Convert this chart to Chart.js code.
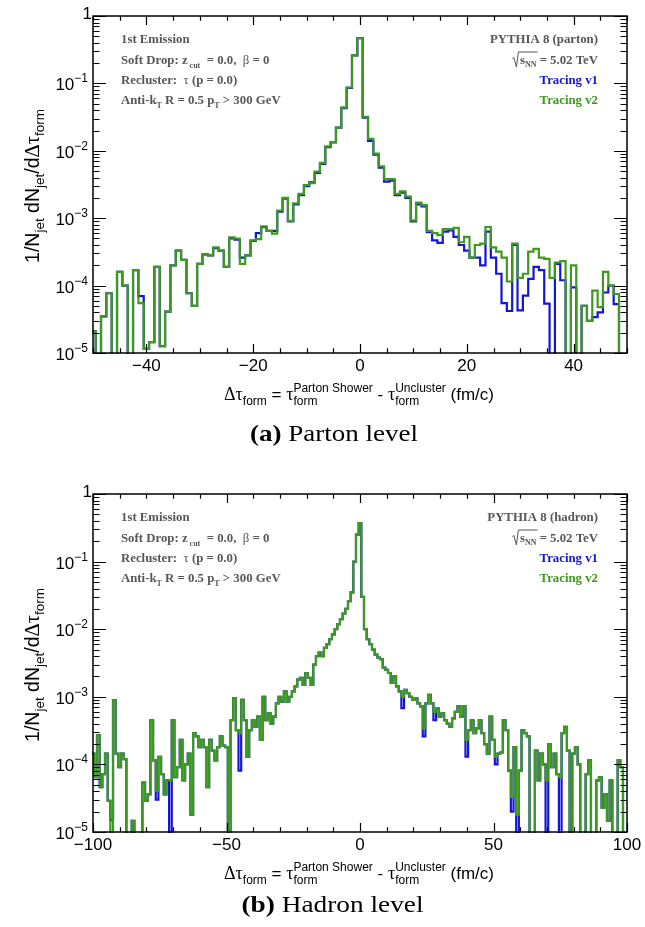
<!DOCTYPE html>
<html><head><meta charset="utf-8">
<script src="https://cdn.jsdelivr.net/npm/chart.js@4.4.1/dist/chart.umd.min.js"></script>
<style>
html,body{margin:0;padding:0;background:#fff}
#wrap{position:relative;width:645px;height:927px;overflow:hidden;background:#fff}
#wrap canvas{position:absolute;left:0;top:0}
</style></head><body>
<div id="wrap"><canvas id="cA" width="645" height="927"></canvas><canvas id="cB" width="645" height="927"></canvas></div>
<script>
// ---------------- DATA ----------------
// Panel (a) parton level: bins of width 1 fm/c centred on -50 ... 50
const partonFirstCenter = -50;
const partonV2 = [
 2.1e-5, 0, 3.5e-5, 7.7e-5, 0, 1.6e-4, 1.0e-4, 0, 1.7e-4, 5.5e-5,
 1.15e-5, 1.45e-5, 1.9e-4, 1.26e-5, 4.1e-5, 2.0e-4, 3.3e-4, 2.4e-4, 7.7e-5, 5.0e-5,
 2.1e-4, 2.9e-4, 2.8e-4, 3.7e-4, 3.3e-4, 1.9e-4, 5.2e-4, 5.0e-4, 2.1e-4, 2.8e-4,
 4.7e-4, 4.9e-4, 7.6e-4, 6.5e-4, 5.9e-4, 1.3e-3, 2.0e-3, 9.1e-4, 1.66e-3, 2.3e-3,
 3.1e-3, 3.3e-3, 4.9e-3, 6.6e-3, 1.16e-2, 1.35e-2, 2.2e-2, 4.4e-2, 8.7e-2, 0.26,
 0.47,
 0.032, 0.015, 0.0091, 0.0059, 0.0038, 0.0038, 0.0023, 0.0025, 0.0021, 9.3e-4,
 1.7e-3, 1.56e-3, 6.5e-4, 6.0e-4, 5.6e-4, 6.9e-4, 6.9e-4, 7.2e-4, 4.4e-4, 5.3e-4,
 2.6e-4, 4.0e-4, 4.2e-4, 7.4e-4, 3.7e-4, 3.2e-4, 2.6e-4, 1.15e-4, 4.2e-4, 1.3e-4,
 1.5e-4, 3.2e-4, 3.5e-4, 2.6e-4, 2.5e-4, 1.3e-4, 2.2e-4, 2.3e-4, 0, 2.0e-4,
 0, 5.0e-5, 3.0e-5, 8.4e-5, 4.8e-5, 1.6e-4, 1.0e-4, 7.5e-5, 0, 0
];
const partonV1 = [
 2.1e-5, 0, 3.5e-5, 7.7e-5, 0, 1.6e-4, 1.0e-4, 0, 1.7e-4, 7.0e-5,
 1.15e-5, 1.45e-5, 1.9e-4, 1.26e-5, 4.1e-5, 2.0e-4, 3.3e-4, 2.4e-4, 7.7e-5, 5.0e-5,
 2.1e-4, 2.9e-4, 2.8e-4, 3.6e-4, 3.3e-4, 1.9e-4, 5.0e-4, 4.8e-4, 2.6e-4, 2.8e-4,
 4.6e-4, 6.0e-4, 7.4e-4, 6.5e-4, 6.5e-4, 1.25e-3, 1.95e-3, 9.0e-4, 1.6e-3, 2.2e-3,
 3.0e-3, 3.4e-3, 4.7e-3, 6.4e-3, 1.13e-2, 1.33e-2, 2.2e-2, 4.3e-2, 8.6e-2, 0.26,
 0.47,
 0.031, 0.014, 0.0088, 0.0056, 0.0035, 0.0036, 0.0022, 0.0024, 0.0020, 9.0e-4,
 1.6e-3, 1.5e-3, 6.2e-4, 4.7e-4, 4.3e-4, 6.3e-4, 6.6e-4, 5.3e-4, 4.0e-4, 3.3e-4,
 2.6e-4, 2.6e-4, 2.0e-4, 6.3e-4, 2.6e-4, 1.5e-4, 5.5e-5, 4.2e-5, 4.0e-4, 4.3e-5,
 7.1e-5, 1.26e-4, 1.9e-4, 1.7e-4, 5.4e-5, 0, 2.1e-4, 1.2e-4, 0, 9.4e-5,
 0, 5.0e-5, 3.0e-5, 3.4e-5, 4.0e-5, 7.9e-5, 1.0e-4, 5.3e-5, 0, 0
];
// Panel (b) hadron level: bins of width 1 fm/c centred on -100 ... 100
const hadronFirstCenter = -100;
const hadronV2 = [
 1.44e-4, 6.5e-5, 2.7e-4, 4.6e-5, 7.2e-5, 1.44e-4, 2.9e-5, 0, 8.9e-4, 1.44e-4,
 9.1e-5, 1.44e-4, 1.2e-4, 0, 0, 1.46e-5, 0, 0, 0, 5.4e-5,
 2.9e-5, 3.6e-5, 4.5e-4, 1.15e-4, 4.1e-5, 1.29e-4, 7.2e-5, 3.6e-5, 5.8e-5, 5.8e-5,
 4.5e-4, 6.5e-5, 9.1e-5, 2.3e-4, 5.8e-5, 1.0e-4, 1.44e-4, 1.8e-5, 2.9e-4, 2.6e-4,
 1.8e-4, 2.3e-4, 1.8e-4, 4.6e-5, 2.3e-4, 1.6e-4, 1.15e-4, 1.8e-4, 2.6e-4, 1.9e-4,
 1.8e-4, 0, 4.5e-4, 9.5e-4, 3.2e-4, 2.9e-4, 9.0e-4, 4.5e-4, 1.29e-4, 3.2e-4,
 4.5e-4, 3.6e-4, 5.1e-4, 2.3e-4, 1.0e-3, 4.5e-4, 5.7e-4, 4.0e-4, 5.1e-4, 8.0e-4,
 1.0e-3, 8.5e-4, 1.2e-3, 8.5e-4, 1.0e-3, 1.2e-3, 1.43e-3, 1.8e-3, 1.9e-3, 1.5e-3,
 2.25e-3, 1.9e-3, 1.5e-3, 3.0e-3, 4.0e-3, 4.5e-3, 4.0e-3, 5.3e-3, 6.0e-3, 7.1e-3,
 8.4e-3, 1.0e-2, 1.19e-2, 1.41e-2, 1.7e-2, 2.0e-2, 2.6e-2, 3.5e-2, 0.1, 0.25,
 0.37,
 0.03, 1.0e-2, 7.1e-3, 6.0e-3, 5.0e-3, 4.2e-3, 3.8e-3, 3.6e-3, 2.7e-3, 2.5e-3,
 2.25e-3, 1.6e-3, 2.0e-3, 1.43e-3, 1.2e-3, 1.0e-3, 1.27e-3, 1.13e-3, 1.0e-3, 9.0e-4,
 9.5e-4, 8.0e-4, 7.2e-4, 3.4e-4, 8.0e-4, 1.07e-3, 8.0e-4, 6.0e-4, 6.8e-4, 5.1e-4,
 5.7e-4, 4.5e-4, 4.0e-4, 3.6e-4, 4.8e-4, 6.0e-4, 7.2e-4, 5.1e-4, 7.2e-4, 2.3e-4,
 3.2e-4, 4.5e-4, 2.9e-4, 3.4e-4, 4.5e-4, 2.9e-4, 2.0e-4, 1.44e-4, 5.1e-4, 2.3e-4,
 1.29e-4, 1.44e-4, 1.5e-4, 4.5e-4, 3.2e-4, 8.1e-5, 3.3e-5, 1.8e-4, 1.8e-5, 8.1e-5,
 3.2e-4, 2.9e-4, 2.6e-4, 0, 0, 1.6e-4, 5.8e-5, 1.44e-4, 1.0e-4, 5.8e-5,
 2.0e-4, 9.1e-5, 1.44e-4, 7.2e-5, 6.5e-5, 2.9e-4, 3.6e-4, 1.6e-4, 0, 1.44e-4,
 1.8e-4, 1.0e-4, 0, 0, 7.2e-5, 1.15e-4, 0, 0, 5.8e-5, 6.5e-5,
 2.3e-5, 3.6e-5, 1.46e-5, 5.8e-5, 0, 0, 1.15e-4, 9.1e-5, 0, 0
];
const hadronV1 = [
 1.44e-4, 6.5e-5, 2.7e-4, 4.6e-5, 7.2e-5, 1.44e-4, 2.9e-5, 1.5e-5, 8.9e-4, 1.44e-4,
 9.1e-5, 1.44e-4, 1.2e-4, 0, 0, 1.46e-5, 0, 0, 0, 5.4e-5,
 2.9e-5, 3.6e-5, 4.5e-4, 1.15e-4, 3.0e-5, 1.29e-4, 7.2e-5, 3.6e-5, 5.8e-5, 0,
 4.5e-4, 6.5e-5, 9.1e-5, 2.3e-4, 5.8e-5, 1.0e-4, 1.44e-4, 1.8e-5, 2.9e-4, 2.6e-4,
 1.8e-4, 2.3e-4, 1.8e-4, 4.6e-5, 2.3e-4, 1.6e-4, 1.15e-4, 1.8e-4, 2.6e-4, 1.9e-4,
 1.8e-4, 0, 4.5e-4, 9.5e-4, 3.2e-4, 8.1e-5, 9.0e-4, 4.5e-4, 1.29e-4, 3.2e-4,
 4.5e-4, 3.6e-4, 5.1e-4, 2.3e-4, 1.0e-3, 4.5e-4, 5.7e-4, 4.0e-4, 5.1e-4, 8.0e-4,
 1.0e-3, 8.5e-4, 1.2e-3, 8.5e-4, 1.0e-3, 1.2e-3, 1.43e-3, 1.8e-3, 1.9e-3, 1.5e-3,
 2.25e-3, 1.9e-3, 1.5e-3, 3.0e-3, 4.0e-3, 4.5e-3, 4.0e-3, 5.3e-3, 6.0e-3, 7.1e-3,
 8.4e-3, 1.0e-2, 1.19e-2, 1.41e-2, 1.7e-2, 2.0e-2, 2.6e-2, 3.5e-2, 0.1, 0.25,
 0.37,
 0.03, 1.0e-2, 7.1e-3, 6.0e-3, 5.0e-3, 4.2e-3, 3.8e-3, 3.6e-3, 2.7e-3, 2.5e-3,
 2.25e-3, 1.6e-3, 2.0e-3, 1.43e-3, 1.2e-3, 6.8e-4, 1.27e-3, 1.13e-3, 1.0e-3, 9.0e-4,
 9.5e-4, 8.0e-4, 7.2e-4, 2.6e-4, 8.0e-4, 1.07e-3, 8.0e-4, 4.5e-4, 6.8e-4, 5.1e-4,
 5.7e-4, 4.5e-4, 4.0e-4, 3.6e-4, 4.8e-4, 6.0e-4, 7.2e-4, 5.1e-4, 7.2e-4, 1.3e-4,
 3.2e-4, 4.5e-4, 2.9e-4, 3.4e-4, 4.5e-4, 2.9e-4, 2.0e-4, 1.44e-4, 5.1e-4, 2.3e-4,
 1.0e-4, 1.44e-4, 1.5e-4, 4.5e-4, 3.2e-4, 8.1e-5, 2.0e-5, 1.8e-4, 0, 8.1e-5,
 3.2e-4, 2.9e-4, 2.6e-4, 0, 0, 1.6e-4, 5.8e-5, 1.44e-4, 1.0e-4, 0,
 2.0e-4, 9.1e-5, 1.44e-4, 7.2e-5, 0, 2.9e-4, 3.6e-4, 1.6e-4, 0, 1.44e-4,
 1.8e-4, 1.0e-4, 0, 0, 7.2e-5, 1.15e-4, 0, 0, 5.8e-5, 6.5e-5,
 2.3e-5, 3.6e-5, 1.46e-5, 5.8e-5, 0, 0, 1.15e-4, 9.1e-5, 0, 0
];
const partonXTicks = [-40, -20, 0, 20, 40];
const hadronXTicks = [-100, -50, 0, 50, 100];
const yTickExps = [0, -1, -2, -3, -4, -5];
const seriesNames = ['Tracing v1', 'Tracing v2'];

// ---------------- STYLE ----------------
const SANS = '"Liberation Sans", Arial, Helvetica, sans-serif';
const SERIF = '"Liberation Serif", "Times New Roman", Times, serif';
const GREY = '#575757';
const BLUE = '#1515d8';
const GREEN = '#3c9a1c';

function stepData(firstCenter, values) {
  const floor = 1e-9; // empty bins fall below the axis minimum
  const pts = values.map((v, i) => ({ x: firstCenter + i - 0.5, y: v > 0 ? v : floor }));
  const last = values[values.length - 1];
  pts.push({ x: firstCenter + values.length - 0.5, y: last > 0 ? last : floor });
  return pts;
}

function rich(ctx, segs, x, y, align) {
  const widths = segs.map(s => {
    if (s.w !== undefined) return s.w;
    ctx.font = s.f;
    if (s.sup !== undefined) return Math.max(ctx.measureText(s.sup).width, ctx.measureText(s.sub).width);
    return ctx.measureText(s.t).width;
  });
  const W = widths.reduce((a, b) => a + b, 0);
  let cx = align === 'right' ? x - W : align === 'center' ? x - W / 2 : x;
  const x0 = cx;
  const pos = [];
  segs.forEach((s, i) => {
    pos.push(cx);
    if (s.w === undefined) {
      ctx.font = s.f; ctx.fillStyle = s.c || '#000';
      if (s.sup !== undefined) {
        ctx.fillText(s.sup, cx, y + s.supDy);
        ctx.fillText(s.sub, cx, y + s.subDy);
      } else ctx.fillText(s.t, cx, y + (s.dy || 0));
    }
    cx += widths[i];
  });
  return { x0, W, pos, widths };
}

function fmtTick(v) { return v < 0 ? '\u2212' + Math.abs(v) : String(v); }

function makeDecor(cfg) {
  return {
    id: 'decor' + cfg.tag,
    afterDraw(chart) {
      const ctx = chart.ctx, a = chart.chartArea, xs = chart.scales.x, ys = chart.scales.y;
      ctx.save();
      ctx.textBaseline = 'alphabetic'; ctx.textAlign = 'left';
      // ticks
      ctx.strokeStyle = '#000'; ctx.lineWidth = 1.2;
      ctx.beginPath();
      for (let v = cfg.xMin; v <= cfg.xMax; v += cfg.xMinorStep) {
        const px = Math.round(xs.getPixelForValue(v)) + 0.5;
        const L = (v % cfg.xMajorStep === 0) ? 9 : 4.7;
        ctx.moveTo(px, a.bottom); ctx.lineTo(px, a.bottom - L);
        ctx.moveTo(px, a.top); ctx.lineTo(px, a.top + L);
      }
      for (let e = -5; e <= 0; e++) {
        for (let m = 1; m <= 9; m++) {
          if (e === 0 && m > 1) break;
          const v = m * Math.pow(10, e);
          const py = Math.round(ys.getPixelForValue(v)) + 0.5;
          const L = m === 1 ? 13 : 6.5;
          ctx.moveTo(a.left, py); ctx.lineTo(a.left + L, py);
          ctx.moveTo(a.right, py); ctx.lineTo(a.right - L, py);
        }
      }
      ctx.stroke();
      ctx.lineWidth = 1.5;
      ctx.strokeRect(a.left, a.top, a.right - a.left, a.bottom - a.top);

      // x tick labels
      ctx.fillStyle = '#000';
      cfg.xTicks.forEach(v => {
        rich(ctx, [{ t: fmtTick(v), f: '17px ' + SANS }], xs.getPixelForValue(v), a.bottom + 18, 'center');
      });
      // y tick labels
      yTickExps.forEach(e => {
        const py = ys.getPixelForValue(Math.pow(10, e));
        if (e === 0) rich(ctx, [{ t: '1', f: '17px ' + SANS }], 92, py + 3, 'right');
        else rich(ctx, [{ t: '10', f: '17px ' + SANS, dy: 7 }, { t: '\u2212' + Math.abs(e), f: '12px ' + SANS, dy: -1 }], 88, py, 'right');
      });

      // y title (rotated)
      ctx.save();
      ctx.translate(39, cfg.yTitleY);
      ctx.rotate(-Math.PI / 2);
      const sub = { f: '13.5px ' + SANS, dy: 5 };
      rich(ctx, [
        { t: '1/N', f: '19.5px ' + SANS }, { t: 'jet', ...sub }, { t: ' dN', f: '19.5px ' + SANS }, { t: 'jet', ...sub },
        { t: '/d', f: '19.5px ' + SANS }, { t: '\u0394\u03c4', f: '20.5px ' + SERIF }, { t: 'form', ...sub }
      ], 0, 0, 'center');
      ctx.restore();

      // x title
      const big = '17px ' + SANS, small = '12px ' + SANS, gk = '18px ' + SERIF;
      rich(ctx, [
        { t: '\u0394\u03c4', f: gk }, { t: 'form', f: small, dy: 5 }, { t: ' = ', f: big },
        { t: '\u03c4', f: gk }, { sup: 'Parton Shower', sub: 'form', f: small, supDy: -8, subDy: 5 },
        { t: ' - ', f: big }, { t: '\u03c4', f: gk }, { sup: 'Uncluster', sub: 'form', f: small, supDy: -8, subDy: 5 },
        { t: ' (fm/c)', f: big }
      ], 359, a.bottom + 47, 'center');

      // annotations (left block)
      const B = 'bold 12.8px ' + SERIF, BS = 'bold 8px ' + SERIF, SY = '12.8px ' + SERIF;
      const L0 = a.top + 27, lx = 121;
      rich(ctx, [{ t: '1st Emission', f: B, c: GREY }], lx, L0, 'left');
      rich(ctx, [{ t: 'Soft Drop: z', f: B, c: GREY }, { t: ' cut', f: BS, c: GREY, dy: 4 }, { t: '  = 0.0,  ', f: B, c: GREY },
                 { t: '\u03b2', f: SY, c: GREY }, { t: ' = 0', f: B, c: GREY }], lx, L0 + 20.5, 'left');
      rich(ctx, [{ t: 'Recluster:  ', f: B, c: GREY }, { t: '\u03c4', f: SY, c: GREY }, { t: ' (p = 0.0)', f: B, c: GREY }], lx, L0 + 41, 'left');
      rich(ctx, [{ t: 'Anti-k', f: B, c: GREY }, { t: 'T', f: BS, c: GREY, dy: 4 }, { t: ' R = 0.5 p', f: B, c: GREY },
                 { t: 'T', f: BS, c: GREY, dy: 4 }, { t: ' > 300 GeV', f: B, c: GREY }], lx, L0 + 60.5, 'left');

      // annotations (right block)
      const rx = 598;
      rich(ctx, [{ t: cfg.gen, f: B, c: GREY }], rx, L0, 'right');
      const r = rich(ctx, [{ w: 8 }, { t: 's', f: B, c: GREY }, { t: 'NN', f: 'bold 8px ' + SERIF, c: GREY, dy: 3 },
                           { t: ' = 5.02 TeV', f: B, c: GREY }], rx, L0 + 20.5, 'right');
      const by = L0 + 20.5;
      ctx.strokeStyle = GREY; ctx.lineWidth = 1;
      ctx.beginPath();
      ctx.moveTo(r.x0 + 0.5, by - 5); ctx.lineTo(r.x0 + 2, by - 6); ctx.lineTo(r.x0 + 4.5, by + 3.5);
      ctx.lineTo(r.x0 + 6.5, by - 11.5); ctx.lineTo(r.pos[3] + 1, by - 11.5);
      ctx.stroke();
      rich(ctx, [{ t: seriesNames[0], f: B, c: BLUE }], rx, L0 + 40.5, 'right');
      rich(ctx, [{ t: seriesNames[1], f: B, c: GREEN }], rx, L0 + 60.5, 'right');

      // caption
      ctx.save();
      const capSegs = [{ t: cfg.capTag, f: 'bold 24px ' + SERIF }, { t: ' ' + cfg.capText, f: '24px ' + SERIF }];
      let nat = 0; capSegs.forEach(s => { ctx.font = s.f; nat += ctx.measureText(s.t).width; });
      ctx.translate(cfg.capX, cfg.capY);
      ctx.scale(cfg.capW / nat, 1);
      rich(ctx, capSegs, 0, 0, 'center');
      ctx.restore();

      ctx.restore();
    }
  };
}

function makeChart(id, firstCenter, v1, v2, pad, cfg) {
  return new Chart(document.getElementById(id), {
    type: 'line',
    data: {
      datasets: [
        { label: seriesNames[1], data: stepData(firstCenter, v2), borderColor: GREEN, borderWidth: 2.2, stepped: true,
          pointRadius: 0, fill: false, order: 0, borderJoinStyle: 'miter', clip: 1 },
        { label: seriesNames[0], data: stepData(firstCenter, v1), borderColor: BLUE, borderWidth: 2.2, stepped: true,
          pointRadius: 0, fill: false, order: 1, borderJoinStyle: 'miter', clip: 1 }
      ]
    },
    options: {
      responsive: false, animation: false, devicePixelRatio: 1, events: [],
      layout: { padding: pad },
      plugins: { legend: { display: false }, tooltip: { enabled: false } },
      scales: {
        x: { type: 'linear', min: cfg.xMin, max: cfg.xMax, display: false },
        y: { type: 'logarithmic', min: 1e-5, max: 1, display: false }
      }
    },
    plugins: [makeDecor(cfg)]
  });
}

makeChart('cA', partonFirstCenter, partonV1, partonV2,
  { left: 93, top: 16, right: 18, bottom: 927 - 353 },
  { tag: 'A', xMin: -50, xMax: 50, xMinorStep: 5, xMajorStep: 20, xTicks: partonXTicks, yTitleY: 186,
    gen: 'PYTHIA 8 (parton)', capTag: '(a)', capText: 'Parton level', capX: 334, capY: 441, capW: 168 });
makeChart('cB', hadronFirstCenter, hadronV1, hadronV2,
  { left: 93, top: 494, right: 18, bottom: 927 - 832 },
  { tag: 'B', xMin: -100, xMax: 100, xMinorStep: 10, xMajorStep: 50, xTicks: hadronXTicks, yTitleY: 665,
    gen: 'PYTHIA 8 (hadron)', capTag: '(b)', capText: 'Hadron level', capX: 332.5, capY: 912, capW: 182 });
</script>
</body></html>
